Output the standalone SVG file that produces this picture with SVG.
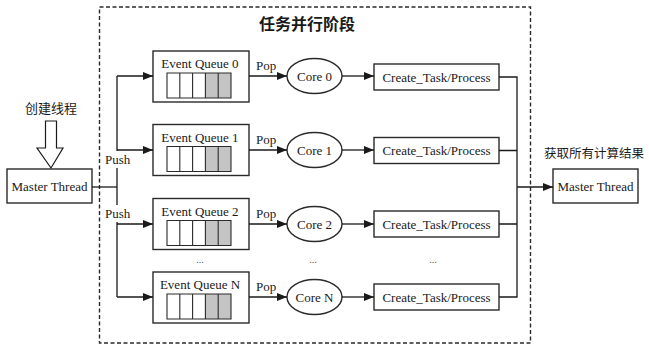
<svg xmlns="http://www.w3.org/2000/svg" width="649" height="348" viewBox="0 0 649 348">
  <defs>
    <marker id="arrow" viewBox="0 0 10 8" refX="10" refY="4" markerWidth="10" markerHeight="8" markerUnits="userSpaceOnUse" orient="auto">
      <path d="M0,0 L10,4 L0,8 Z" fill="#1a1a1a"/>
    </marker>
    <!-- five-slot queue buffer, last two slots occupied -->
    <g id="slots">
      <rect x="0" y="0" width="12.8" height="25" fill="#fff"/>
      <rect x="12.8" y="0" width="12.8" height="25" fill="#fff"/>
      <rect x="25.6" y="0" width="12.8" height="25" fill="#fff"/>
      <rect x="38.4" y="0" width="12.8" height="25" fill="#c4c4c4"/>
      <rect x="51.2" y="0" width="12.8" height="25" fill="#c4c4c4"/>
      <path d="M0,0 H64 V25 H0 Z M12.8,0 V25 M25.6,0 V25 M38.4,0 V25 M51.2,0 V25" fill="none" stroke="#2a2a2a" stroke-width="1.1"/>
    </g>
  </defs>
  <style>
    .box { fill: #fff; stroke: #2a2a2a; stroke-width: 1.4; }
    .line { fill: none; stroke: #1a1a1a; stroke-width: 1.3; }
    .t { font-family: "Liberation Serif", "Times New Roman", serif; font-size: 13px; fill: #1a1a1a; }
    .c { text-anchor: middle; }
    .cjk { font-family: "Noto Sans CJK SC", sans-serif; fill: #1a1a1a; }
    .dots { font-family: "Liberation Serif", serif; font-size: 10px; fill: #555; text-anchor: middle; }
  </style>
  <rect width="649" height="348" fill="#fff"/>

  <!-- parallel task stage frame -->
  <g id="stage">
    <rect x="99.5" y="7" width="431" height="336" fill="none" stroke="#2a2a2a" stroke-width="1.4" stroke-dasharray="4 2.5"/>
    <text class="cjk" x="307" y="30" font-size="16" font-weight="bold" text-anchor="middle">任务并行阶段</text>
  </g>

  <!-- thread creation hint -->
  <g id="create-thread">
    <text class="cjk" x="51" y="113" font-size="13" text-anchor="middle">创建线程</text>
    <path d="M45.5,121 H56.5 V148 H63 L51,168 L37,148 H45.5 Z" fill="#fff" stroke="#1a1a1a" stroke-width="1.2"/>
  </g>

  <g id="master-in">
    <rect class="box" x="7" y="169" width="85" height="34"/>
    <text class="t c" x="49.5" y="190.5">Master Thread</text>
  </g>

  <g id="master-out">
    <text class="cjk" x="594" y="158" font-size="12.5" text-anchor="middle">获取所有计算结果</text>
    <rect class="box" x="553" y="169" width="85" height="34"/>
    <text class="t c" x="595.5" y="190.5">Master Thread</text>
  </g>

  <!-- event queues -->
  <g id="queue-0">
    <rect class="box" x="153" y="51" width="96" height="51"/>
    <text class="t c" x="200" y="68">Event Queue 0</text>
    <use href="#slots" x="167" y="73"/>
  </g>
  <g id="queue-1">
    <rect class="box" x="153" y="124.5" width="96" height="51"/>
    <text class="t c" x="200" y="141.5">Event Queue 1</text>
    <use href="#slots" x="167" y="146.5"/>
  </g>
  <g id="queue-2">
    <rect class="box" x="153" y="198.5" width="96" height="51"/>
    <text class="t c" x="200" y="215.5">Event Queue 2</text>
    <use href="#slots" x="167" y="220.5"/>
  </g>
  <g id="queue-n">
    <rect class="box" x="153" y="272" width="96" height="51"/>
    <text class="t c" x="200" y="289">Event Queue N</text>
    <use href="#slots" x="167" y="294"/>
  </g>

  <!-- cores -->
  <g id="core-0">
    <ellipse class="box" cx="314.5" cy="76" rx="27.5" ry="17.5"/>
    <text class="t c" x="314.5" y="80.5">Core 0</text>
  </g>
  <g id="core-1">
    <ellipse class="box" cx="314.5" cy="150" rx="27.5" ry="17.5"/>
    <text class="t c" x="314.5" y="154.5">Core 1</text>
  </g>
  <g id="core-2">
    <ellipse class="box" cx="314.5" cy="224" rx="27.5" ry="17.5"/>
    <text class="t c" x="314.5" y="228.5">Core 2</text>
  </g>
  <g id="core-n">
    <ellipse class="box" cx="314.5" cy="297" rx="27.5" ry="17.5"/>
    <text class="t c" x="314.5" y="301.5">Core N</text>
  </g>

  <!-- task creation -->
  <g id="task-0">
    <rect class="box" x="374" y="64" width="125" height="26"/>
    <text class="t c" x="436.5" y="81.5">Create_Task/Process</text>
  </g>
  <g id="task-1">
    <rect class="box" x="374" y="137.5" width="125" height="26"/>
    <text class="t c" x="436.5" y="155">Create_Task/Process</text>
  </g>
  <g id="task-2">
    <rect class="box" x="374" y="211" width="125" height="26"/>
    <text class="t c" x="436.5" y="228.5">Create_Task/Process</text>
  </g>
  <g id="task-n">
    <rect class="box" x="374" y="284" width="125" height="26"/>
    <text class="t c" x="436.5" y="301.5">Create_Task/Process</text>
  </g>

  <!-- omitted rows -->
  <text class="dots" x="200" y="263">...</text>
  <text class="dots" x="313" y="263">...</text>
  <text class="dots" x="433" y="263">...</text>

  <g id="connectors">
    <!-- push fan-out -->
    <path class="line" d="M92,187 H117"/>
    <path class="line" d="M117,76 V151"/>
    <path class="line" d="M117,168 V205"/>
    <path class="line" d="M117,222 V297"/>
    <path class="line" d="M117,76 H153" marker-end="url(#arrow)"/>
    <path class="line" d="M117,150 H153" marker-end="url(#arrow)"/>
    <path class="line" d="M117,224 H153" marker-end="url(#arrow)"/>
    <path class="line" d="M117,297 H153" marker-end="url(#arrow)"/>
    <text class="t" x="105" y="164">Push</text>
    <text class="t" x="105" y="218">Push</text>

    <!-- pop to cores -->
    <path class="line" d="M249,76 H287" marker-end="url(#arrow)"/>
    <path class="line" d="M249,150 H287" marker-end="url(#arrow)"/>
    <path class="line" d="M249,224 H287" marker-end="url(#arrow)"/>
    <path class="line" d="M249,297 H287" marker-end="url(#arrow)"/>
    <text class="t" x="256" y="70">Pop</text>
    <text class="t" x="256" y="144">Pop</text>
    <text class="t" x="256" y="217.5">Pop</text>
    <text class="t" x="256" y="291">Pop</text>

    <!-- cores to task creation -->
    <path class="line" d="M342,76 H374" marker-end="url(#arrow)"/>
    <path class="line" d="M342,150 H374" marker-end="url(#arrow)"/>
    <path class="line" d="M342,224 H374" marker-end="url(#arrow)"/>
    <path class="line" d="M342,297 H374" marker-end="url(#arrow)"/>

    <!-- results gathered -->
    <path class="line" d="M499,77 H517 V297 H499 M499,150.5 H517 M499,224 H517"/>
    <path class="line" d="M517,187 H553" marker-end="url(#arrow)"/>
  </g>
</svg>
